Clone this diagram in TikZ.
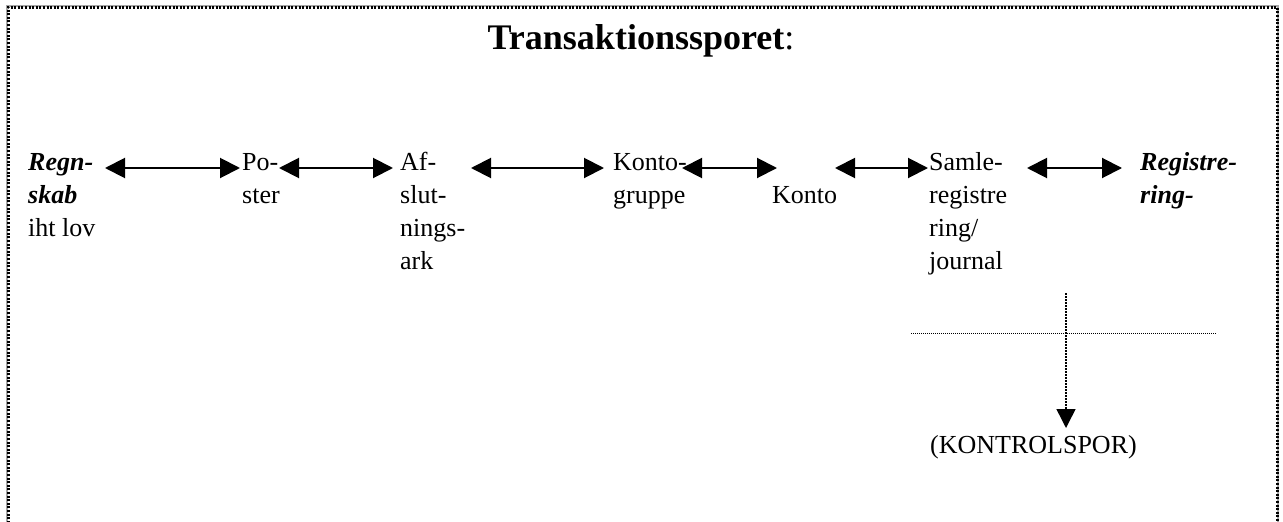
\documentclass[tikz,border=0pt]{standalone}
\usepackage{fontspec}
\setmainfont{Liberation Serif}
\usetikzlibrary{arrows.meta}
% left-aligned column of lines whose baseline is that of the first line
\newcommand\termstack[1]{\vtop{\baselineskip=33pt\lineskiplimit=-10pt\halign{##\hfil\cr#1\crcr}}}
\tikzset{
  lbl/.style={anchor=base west, inner sep=0pt,
              font=\fontsize{26}{33}\selectfont},
  link/.style={{Triangle[length=20pt,width=20pt]}-{Triangle[length=20pt,width=20pt]}, line width=2pt},
  frame/.style={line width=3pt, dash pattern=on 2pt off 1.6pt},
  guide/.style={line width=1pt, dash pattern=on 1pt off 1pt},
  drop/.style={-{Triangle[length=19pt,width=19pt]}, line width=1.5pt, dash pattern=on 1.5pt off 1.5pt}
}
\begin{document}
\begin{tikzpicture}[x=1pt,y=-1pt]
  \useasboundingbox (0,0) rectangle (1283,522);
  % outer dotted frame, open at the bottom
  \draw[gray!70, line width=1.5pt] (7,530) -- (7,6) -- (1278,6) -- (1278,530);
  \draw[frame] (8,530) -- (8,7) -- (1277,7) -- (1277,530);

  % heading
  \node[anchor=base, inner sep=0pt, font=\fontsize{36}{40}\selectfont] (title) at (641,49)
    {\textbf{Transaktionssporet}:};

  % chain of terms
  \node[lbl] (regn)  at (28,170)   {\termstack{\textbf{\textit{Regn-}}\cr\textbf{\textit{skab}}\cr iht lov}};
  \node[lbl] (post)  at (242,170)  {\termstack{Po-\cr ster}};
  \node[lbl] (afsl)  at (400,170)  {\termstack{Af-\cr slut-\cr nings-\cr ark}};
  \node[lbl] (kgrp)  at (613,170)  {\termstack{Konto-\cr gruppe}};
  \node[lbl] (konto) at (772,203)  {Konto};
  \node[lbl] (samle) at (929,170)  {\termstack{Samle-\cr registre\cr ring/\cr journal}};
  \node[lbl] (regis) at (1140,170) {\termstack{\textbf{\textit{Registre-}}\cr\textbf{\textit{ring-}}}};
  \node[lbl] (kspor) at (930,453)  {(KONTROLSPOR)};

  % arrow end points
  \coordinate (a1l) at (105,168);  \coordinate (a1r) at (240,168);
  \coordinate (a2l) at (279,168);  \coordinate (a2r) at (393,168);
  \coordinate (a3l) at (471,168);  \coordinate (a3r) at (604,168);
  \coordinate (a4l) at (682,168);  \coordinate (a4r) at (777,168);
  \coordinate (a5l) at (835,168);  \coordinate (a5r) at (928,168);
  \coordinate (a6l) at (1027,168); \coordinate (a6r) at (1122,168);

  \draw[link] (a1l) -- (a1r);
  \draw[link] (a2l) -- (a2r);
  \draw[link] (a3l) -- (a3r);
  \draw[link] (a4l) -- (a4r);
  \draw[link] (a5l) -- (a5r);
  \draw[link] (a6l) -- (a6r);

  % control trail cross
  \coordinate (hl) at (911,333);
  \coordinate (hr) at (1216,333);
  \coordinate (vt) at (1066,293);
  \coordinate (vb) at (1066,428);
  \draw[guide] (hl) -- (hr);
  \draw[drop] (vt) -- (vb);
\end{tikzpicture}
\end{document}
